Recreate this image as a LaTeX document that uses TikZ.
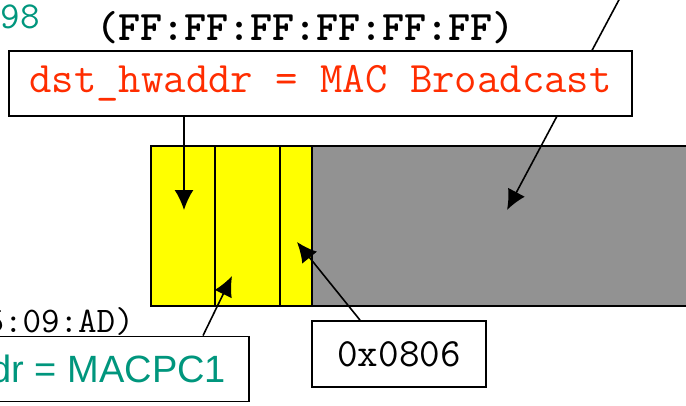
\documentclass[tikz,border=0pt]{standalone}
\usepackage{fontspec}
\usetikzlibrary{positioning, arrows.meta}
\newfontfamily\hwsans{Liberation Sans}
\definecolor{dstred}{RGB}{255,45,0}
\definecolor{srcteal}{RGB}{0,150,125}
\definecolor{frameyellow}{RGB}{255,255,0}
\definecolor{framegray}{RGB}{146,146,146}

\begin{document}
\begin{tikzpicture}[x=1pt, y=-1pt, >={Latex[length=20pt,width=19pt]},
  box/.style={draw, line width=1.8pt, fill=white, inner sep=0pt},
  arr/.style={line width=1.6pt, ->}]
  \useasboundingbox (0,0) rectangle (686,405);
  % ethernet frame
  \fill [frameyellow] (151,146) rectangle (312,306);
  \fill [framegray] (312,146) rectangle (700,306);
  \draw [line width=2pt] (700,146) -- (151,146) -- (151,306) -- (700,306);
  \draw [line width=2pt] (215,146) -- (215,306);
  \draw [line width=2pt] (280,146) -- (280,306);
  \draw [line width=2pt] (312,146) -- (312,306);
  % tips
  \coordinate (dsttip) at (184,210);
  \coordinate (srctip) at (232,276);
  \coordinate (typetip) at (297,242);
  \coordinate (datatip) at (507,210);
  \coordinate (datatop) at (621,-4);
  \draw [arr] (datatop) -- (datatip);
  % labels
  \node (ipend) at (40,28) [anchor=base east, inner sep=0pt, text=srcteal,
    font=\ttfamily\fontsize{38}{38}\selectfont] {98};
  \node (bcastmac) at (305.5,40) [anchor=base, inner sep=0pt,
    font=\ttfamily\bfseries\fontsize{42}{42}\selectfont] {(FF:FF:FF:FF:FF:FF)};
  \node (srcmac) at (134,332) [anchor=base east, inner sep=0pt,
    font=\ttfamily\fontsize{36}{36}\selectfont] {5:09:AD)};
  \node (bcast) at (320.5,83.5) [box, minimum width=623pt, minimum height=65pt,
    text=dstred, font=\ttfamily\fontsize{43.5}{43.5}\selectfont] {dst\_hwaddr = MAC Broadcast};
  \node (type) at (399,354) [box, minimum width=174pt, minimum height=66pt,
    font=\ttfamily\fontsize{40}{40}\selectfont] {0x0806};
  \node (src) at (250,369) [box, anchor=east, inner xsep=23pt, minimum height=65pt,
    text=srcteal, font=\hwsans\fontsize{38}{38}\selectfont] {dr = MACPC1};
  % arrows
  \draw [arr] (bcast.south -| dsttip) -- (dsttip);
  \draw [arr] ([xshift=-47pt]src.north east) -- (srctip);
  \draw [arr] ([xshift=-39pt]type.north) -- (typetip);
\end{tikzpicture}
\end{document}
